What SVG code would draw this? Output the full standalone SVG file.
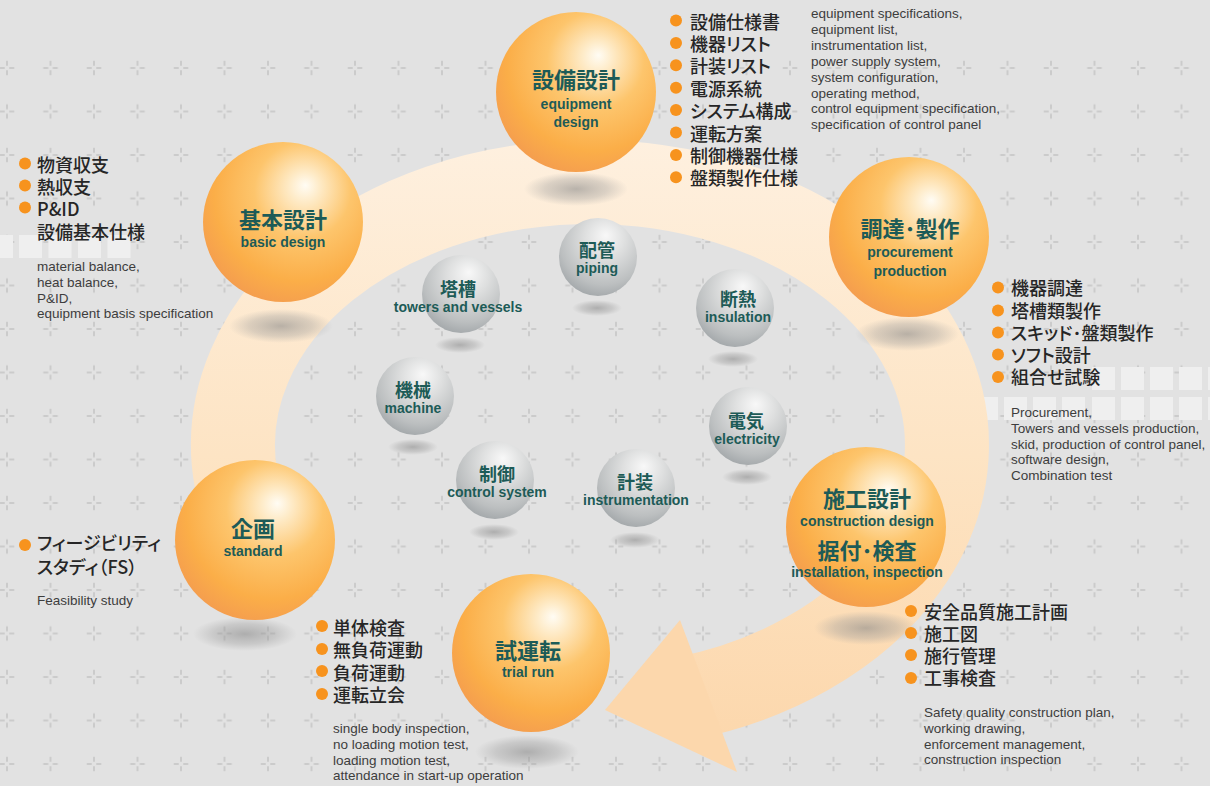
<svg xmlns="http://www.w3.org/2000/svg" width="1210" height="786" viewBox="0 0 1210 786">
<defs>
<style>
.sj{font-family:"Noto Sans CJK JP",sans-serif;font-weight:bold;fill:#1d5b57;text-anchor:middle;font-feature-settings:"palt";}
.big{font-size:22px;}
.sm{font-size:18px;}
.se{font-family:"Liberation Sans",Arial,sans-serif;font-weight:bold;fill:#1d5b57;text-anchor:middle;font-size:14px;}
.li{font-family:"Noto Sans CJK JP",sans-serif;font-size:18px;font-weight:500;fill:#262626;font-feature-settings:"palt";}
.en{font-family:"Liberation Sans",Arial,sans-serif;font-size:13.5px;fill:#3d3d3d;}
.bu{fill:#f7931e;}
.sq{fill:#efefef;}
.osph{fill:url(#og);}
.gsph{fill:url(#gg);}
.shL{fill:url(#shd);}
</style>
<pattern id="cross" x="-14.75" y="46.25" width="43.5" height="43.5" patternUnits="userSpaceOnUse">
<path d="M14.5 21.75h5M24 21.75h5M21.75 14.5v5M21.75 24v5" stroke="#b4b4b4" stroke-width="1" fill="none"/>
</pattern>
<radialGradient id="og" cx="0.6" cy="0.35" r="0.72" fx="0.64" fy="0.27">
<stop offset="0" stop-color="#fffcf4"/>
<stop offset="0.13" stop-color="#feebc8"/>
<stop offset="0.42" stop-color="#fdc56c"/>
<stop offset="0.75" stop-color="#fbae48"/>
<stop offset="1" stop-color="#f39a50"/>
</radialGradient>
<radialGradient id="gg" cx="0.57" cy="0.32" r="0.75" fx="0.6" fy="0.22">
<stop offset="0" stop-color="#f8f8f8"/>
<stop offset="0.35" stop-color="#dedfdf"/>
<stop offset="0.75" stop-color="#bcbfc0"/>
<stop offset="1" stop-color="#9ca1a4"/>
</radialGradient>
<radialGradient id="shd" cx="0.5" cy="0.5" r="0.5">
<stop offset="0" stop-color="#8a8a8a" stop-opacity="0.6"/>
<stop offset="0.6" stop-color="#9a9a9a" stop-opacity="0.35"/>
<stop offset="1" stop-color="#a0a0a0" stop-opacity="0"/>
</radialGradient>
<linearGradient id="band" x1="0" y1="140" x2="0" y2="770" gradientUnits="userSpaceOnUse">
<stop offset="0" stop-color="#fef0df"/>
<stop offset="0.5" stop-color="#fde4c4"/>
<stop offset="1" stop-color="#fcd6aa"/>
</linearGradient>
</defs>

<rect width="1210" height="786" fill="#e2e2e2"/>
<rect x="0" y="46" width="1210" height="740" fill="url(#cross)"/>

<g id="squares">
<rect class="sq" x="-10" y="235" width="23" height="23"/>
<rect class="sq" x="19" y="235" width="23" height="23"/>
<rect class="sq" x="48.5" y="235" width="23" height="23"/>
<rect class="sq" x="78" y="235" width="23" height="23"/>
<rect class="sq" x="107.5" y="235" width="23" height="23"/>
<rect class="sq" x="1092" y="367" width="23" height="23"/>
<rect class="sq" x="1121" y="367" width="23" height="23"/>
<rect class="sq" x="1150" y="367" width="23" height="23"/>
<rect class="sq" x="1179" y="367" width="23" height="23"/>
<rect class="sq" x="1208" y="367" width="23" height="23"/>
<rect class="sq" x="975" y="397" width="23" height="23"/>
<rect class="sq" x="1004" y="397" width="23" height="23"/>
<rect class="sq" x="1033" y="397" width="23" height="23"/>
<rect class="sq" x="1062" y="397" width="23" height="23"/>
<rect class="sq" x="1092" y="397" width="23" height="23"/>
<rect class="sq" x="1121" y="397" width="23" height="23"/>
<rect class="sq" x="1150" y="397" width="23" height="23"/>
<rect class="sq" x="1179" y="397" width="23" height="23"/>
<rect class="sq" x="1208" y="397" width="23" height="23"/>
</g>

<g id="connectors">
<path d="M280.8 576.5 A357 263 0 1 1 682.4 699" fill="none" stroke="url(#band)" stroke-width="84"/>
<polygon points="680,620 605,710 737,772" fill="#fcd7ac"/>
</g>

<g id="shadows">
<ellipse class="shL" cx="576" cy="189" rx="52" ry="17"/>
<ellipse class="shL" cx="281" cy="326" rx="52" ry="17"/>
<ellipse class="shL" cx="907" cy="334" rx="52" ry="17"/>
<ellipse class="shL" cx="866" cy="628" rx="52" ry="17"/>
<ellipse class="shL" cx="245" cy="634" rx="52" ry="17"/>
<ellipse class="shL" cx="527" cy="752" rx="52" ry="17"/>
<ellipse class="shL" cx="597" cy="308" rx="25" ry="8"/>
<ellipse class="shL" cx="460" cy="345" rx="25" ry="8"/>
<ellipse class="shL" cx="733" cy="359" rx="25" ry="8"/>
<ellipse class="shL" cx="413" cy="447" rx="25" ry="8"/>
<ellipse class="shL" cx="747" cy="477" rx="25" ry="8"/>
<ellipse class="shL" cx="494" cy="532" rx="25" ry="8"/>
<ellipse class="shL" cx="635" cy="540" rx="25" ry="8"/>
</g>

<g id="equipment-design">
<circle class="osph" cx="576" cy="92" r="80"/>
<text class="sj big" x="576" y="88">設備設計</text>
<text class="se" x="576" y="109">equipment</text>
<text class="se" x="576" y="127">design</text>
</g>
<g id="basic-design">
<circle class="osph" cx="283" cy="222" r="80"/>
<text class="sj big" x="283" y="228">基本設計</text>
<text class="se" x="283" y="247">basic design</text>
</g>
<g id="procurement">
<circle class="osph" cx="909" cy="237" r="80"/>
<text class="sj big" x="910" y="237">調達･製作</text>
<text class="se" x="910" y="257">procurement</text>
<text class="se" x="910" y="276">production</text>
</g>
<g id="construction">
<circle class="osph" cx="866" cy="527" r="80"/>
<text class="sj big" x="867" y="507">施工設計</text>
<text class="se" x="867" y="526">construction design</text>
<text class="sj big" x="867" y="559">据付･検査</text>
<text class="se" x="867" y="577">installation, inspection</text>
</g>
<g id="standard">
<circle class="osph" cx="255" cy="540" r="80"/>
<text class="sj big" x="253" y="537">企画</text>
<text class="se" x="253" y="556">standard</text>
</g>
<g id="trial-run">
<circle class="osph" cx="531" cy="653" r="79"/>
<text class="sj big" x="528" y="659">試運転</text>
<text class="se" x="528" y="677">trial run</text>
</g>

<g id="piping">
<circle class="gsph" cx="598" cy="257" r="39"/>
<text class="sj sm" x="597" y="257">配管</text>
<text class="se" x="597" y="273">piping</text>
</g>
<g id="towers">
<circle class="gsph" cx="461" cy="294" r="39"/>
<text class="sj sm" x="458" y="296">塔槽</text>
<text class="se" x="458" y="312">towers and vessels</text>
</g>
<g id="insulation">
<circle class="gsph" cx="735" cy="308" r="39"/>
<text class="sj sm" x="738" y="306">断熱</text>
<text class="se" x="738" y="322">insulation</text>
</g>
<g id="machine">
<circle class="gsph" cx="415" cy="396" r="39"/>
<text class="sj sm" x="413" y="397">機械</text>
<text class="se" x="413" y="413">machine</text>
</g>
<g id="electricity">
<circle class="gsph" cx="748" cy="426" r="39"/>
<text class="sj sm" x="746" y="428">電気</text>
<text class="se" x="747" y="444">electricity</text>
</g>
<g id="control">
<circle class="gsph" cx="495" cy="480" r="39"/>
<text class="sj sm" x="497" y="481">制御</text>
<text class="se" x="497" y="497">control system</text>
</g>
<g id="instrumentation">
<circle class="gsph" cx="636" cy="488" r="39"/>
<text class="sj sm" x="635" y="489">計装</text>
<text class="se" x="636" y="505">instrumentation</text>
</g>

<g id="list-equipment">
<circle class="bu" cx="676" cy="20.5" r="6"/>
<circle class="bu" cx="676" cy="42.9" r="6"/>
<circle class="bu" cx="676" cy="65.3" r="6"/>
<circle class="bu" cx="676" cy="87.7" r="6"/>
<circle class="bu" cx="676" cy="110.1" r="6"/>
<circle class="bu" cx="676" cy="132.5" r="6"/>
<circle class="bu" cx="676" cy="154.9" r="6"/>
<circle class="bu" cx="676" cy="177.3" r="6"/>
<text class="li" x="690" y="28.5">設備仕様書</text>
<text class="li" x="690" y="50.9">機器リスト</text>
<text class="li" x="690" y="73.3">計装リスト</text>
<text class="li" x="690" y="95.7">電源系統</text>
<text class="li" x="690" y="118.1">システム構成</text>
<text class="li" x="690" y="140.5">運転方案</text>
<text class="li" x="690" y="162.9">制御機器仕様</text>
<text class="li" x="690" y="185.3">盤類製作仕様</text>
<text class="en" x="811" y="18">equipment specifications,</text>
<text class="en" x="811" y="34">equipment list,</text>
<text class="en" x="811" y="50">instrumentation list,</text>
<text class="en" x="811" y="66">power supply system,</text>
<text class="en" x="811" y="81.5">system configuration,</text>
<text class="en" x="811" y="97.5">operating method,</text>
<text class="en" x="811" y="113">control equipment specification,</text>
<text class="en" x="811" y="129">specification of control panel</text>
</g>

<g id="list-basic">
<circle class="bu" cx="25" cy="163.5" r="6"/>
<circle class="bu" cx="25" cy="185.5" r="6"/>
<circle class="bu" cx="25" cy="207.5" r="6"/>
<text class="li" x="37" y="172">物資収支</text>
<text class="li" x="37" y="194">熱収支</text>
<text class="li" x="37" y="216">P&amp;ID</text>
<text class="li" x="37" y="239">設備基本仕様</text>
<text class="en" x="37" y="271">material balance,</text>
<text class="en" x="37" y="287">heat balance,</text>
<text class="en" x="37" y="303">P&amp;ID,</text>
<text class="en" x="37" y="318">equipment basis specification</text>
</g>

<g id="list-procurement">
<circle class="bu" cx="998" cy="287.5" r="6"/>
<circle class="bu" cx="998" cy="310.5" r="6"/>
<circle class="bu" cx="998" cy="332.5" r="6"/>
<circle class="bu" cx="998" cy="354.5" r="6"/>
<circle class="bu" cx="998" cy="377" r="6"/>
<text class="li" x="1011" y="295">機器調達</text>
<text class="li" x="1011" y="318">塔槽類製作</text>
<text class="li" x="1011" y="340">スキッド･盤類製作</text>
<text class="li" x="1011" y="362">ソフト設計</text>
<text class="li" x="1011" y="384">組合せ試験</text>
<text class="en" x="1011" y="417">Procurement,</text>
<text class="en" x="1011" y="433">Towers and vessels production,</text>
<text class="en" x="1011" y="448.5">skid, production of control panel,</text>
<text class="en" x="1011" y="464">software design,</text>
<text class="en" x="1011" y="480">Combination test</text>
</g>

<g id="list-standard">
<circle class="bu" cx="25" cy="545" r="6"/>
<text class="li" x="37" y="550">フィージビリティ</text>
<text class="li" x="37" y="574">スタディ（FS）</text>
<text class="en" x="37" y="605">Feasibility study</text>
</g>

<g id="list-trial">
<circle class="bu" cx="322" cy="626" r="6"/>
<circle class="bu" cx="322" cy="649" r="6"/>
<circle class="bu" cx="322" cy="671" r="6"/>
<circle class="bu" cx="322" cy="694" r="6"/>
<text class="li" x="333" y="635">単体検査</text>
<text class="li" x="333" y="657">無負荷運動</text>
<text class="li" x="333" y="680">負荷運動</text>
<text class="li" x="333" y="702">運転立会</text>
<text class="en" x="333" y="733">single body inspection,</text>
<text class="en" x="333" y="749">no loading motion test,</text>
<text class="en" x="333" y="765">loading motion test,</text>
<text class="en" x="333" y="780">attendance in start-up operation</text>
</g>

<g id="list-construction">
<circle class="bu" cx="911" cy="611" r="6"/>
<circle class="bu" cx="911" cy="633" r="6"/>
<circle class="bu" cx="911" cy="655" r="6"/>
<circle class="bu" cx="911" cy="678" r="6"/>
<text class="li" x="924" y="619">安全品質施工計画</text>
<text class="li" x="924" y="641">施工図</text>
<text class="li" x="924" y="663">施行管理</text>
<text class="li" x="924" y="685">工事検査</text>
<text class="en" x="924" y="717">Safety quality construction plan,</text>
<text class="en" x="924" y="733">working drawing,</text>
<text class="en" x="924" y="748.5">enforcement management,</text>
<text class="en" x="924" y="764">construction inspection</text>
</g>
</svg>
